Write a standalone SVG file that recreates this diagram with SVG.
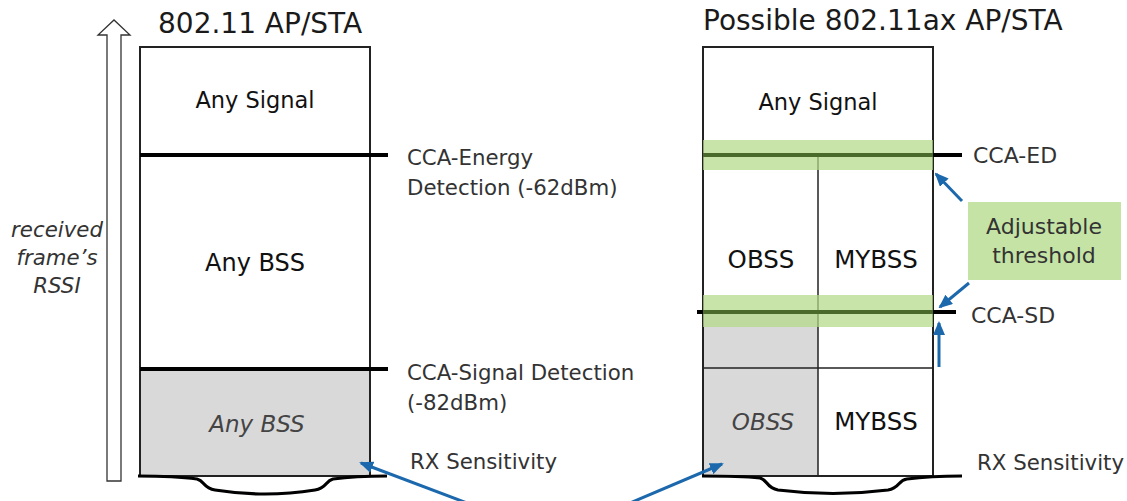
<svg xmlns="http://www.w3.org/2000/svg" width="1127" height="501" viewBox="0 0 1127 501">
<style>
text{font-family:"DejaVu Sans","Liberation Sans",sans-serif}
.title{font-size:28px;fill:#1a1a1a}
.body{font-size:22.5px;fill:#111;text-anchor:middle}
.it{font-size:23px;fill:#444;font-style:italic;text-anchor:middle}
.lbl{font-size:21.3px;fill:#333}
.box{fill:none;stroke:#222;stroke-width:2}
.thin{stroke:#222;stroke-width:1.5;fill:none}
.thick{stroke:#000;stroke-width:4;fill:none}
.dg{stroke:#4a6a2b;stroke-width:4}
.band{fill:#b3da88;opacity:0.72}
.gray{fill:#d9d9d9}
.base{stroke:#000;stroke-width:3.2;fill:none;stroke-linejoin:round}
.blue{stroke:#1c68ad;stroke-width:3;fill:none;marker-end:url(#ah)}
</style>
<defs>
<marker id="ah" markerUnits="userSpaceOnUse" markerWidth="14" markerHeight="12" refX="12" refY="6" orient="auto">
<path d="M0,0 L14,6 L0,12 z" fill="#1c68ad"/>
</marker>
</defs>
<rect width="1127" height="501" fill="#fff"/>

<g id="rssi-axis">
<polygon points="107,481 107,35 98,35 114,20 130,35 121,35 121,481" fill="#fff" stroke="#333" stroke-width="1.3"/>
<text class="lbl" style="font-style:italic;text-anchor:middle" x="57" y="237">received</text>
<text class="lbl" style="font-style:italic;text-anchor:middle" x="57" y="265">frame’s</text>
<text class="lbl" style="font-style:italic;text-anchor:middle" x="57" y="293">RSSI</text>
</g>

<g id="legacy-column">
<text class="title" x="158" y="33">802.11 AP/STA</text>
<rect class="gray" x="140" y="369" width="230" height="107"/>
<rect class="box" x="140" y="47" width="230" height="429"/>
<line class="thick" x1="140" y1="155" x2="388" y2="155"/>
<line class="thick" x1="140" y1="369" x2="388" y2="369"/>
<path class="base" d="M138,476 Q175,476 197,479 C205,481 203,488 215,490 Q265,498 315,490 C327,488 325,481 333,479 Q355,476 387,476"/>
<text class="body" x="255" y="108">Any Signal</text>
<text class="body" x="255" y="271" style="font-size:24px">Any BSS</text>
<text class="it" x="257" y="432">Any BSS</text>
</g>

<g id="legacy-labels">
<text class="lbl" x="407" y="165">CCA-Energy</text>
<text class="lbl" x="407" y="195">Detection (-62dBm)</text>
<text class="lbl" x="407" y="380">CCA-Signal Detection</text>
<text class="lbl" x="407" y="410">(-82dBm)</text>
<text class="lbl" x="410" y="469">RX Sensitivity</text>
</g>

<g id="ax-column">
<text class="title" x="703" y="30">Possible 802.11ax AP/STA</text>
<rect class="gray" x="703" y="312" width="115" height="164"/>
<rect class="box" x="703" y="47" width="230" height="429"/>
<line class="thin" x1="818" y1="155" x2="818" y2="476"/>
<line class="thin" x1="703" y1="368" x2="933" y2="368"/>
<rect class="band" x="703" y="140" width="230" height="30"/>
<rect class="band" x="703" y="295" width="230" height="32"/>
<line class="dg" x1="703" y1="155" x2="933" y2="155"/>
<line class="thick" x1="933" y1="155" x2="962" y2="155"/>
<line class="dg" x1="703" y1="312" x2="933" y2="312"/>
<line class="thick" x1="697" y1="312" x2="703" y2="312"/>
<line class="thick" x1="933" y1="312" x2="956" y2="312"/>
<path class="base" d="M702,476 Q740,476 760,478 C768,480 766,488 778,490 Q833,497 888,490 C900,488 898,480 907,479 Q930,476 962,476"/>
<text class="body" x="818" y="110">Any Signal</text>
<text class="body" x="761" y="268" style="font-size:24.5px">OBSS</text>
<text class="body" x="876" y="268" style="font-size:24.5px">MYBSS</text>
<text class="it" x="763" y="430">OBSS</text>
<text class="body" x="876" y="430" style="font-size:24.5px">MYBSS</text>
</g>

<g id="ax-labels">
<text class="lbl" x="973" y="163" style="font-size:22px">CCA-ED</text>
<text class="lbl" x="971" y="323" style="font-size:22px">CCA-SD</text>
<text class="lbl" x="977" y="470">RX Sensitivity</text>
</g>

<g id="adjustable-threshold">
<rect x="968" y="202" width="153" height="78" fill="#c6e3a6"/>
<text class="lbl" x="1044" y="234" style="font-size:22px;text-anchor:middle">Adjustable</text>
<text class="lbl" x="1044" y="263" style="font-size:22px;text-anchor:middle">threshold</text>
</g>

<g id="connectors">
<line class="blue" x1="962" y1="201" x2="936" y2="174"/>
<line class="blue" x1="969" y1="283" x2="940" y2="307"/>
<line class="blue" x1="939" y1="367" x2="939" y2="323"/>
<line class="blue" x1="467" y1="503" x2="361" y2="463"/>
<line class="blue" x1="630" y1="503" x2="722" y2="464"/>
</g>
</svg>
